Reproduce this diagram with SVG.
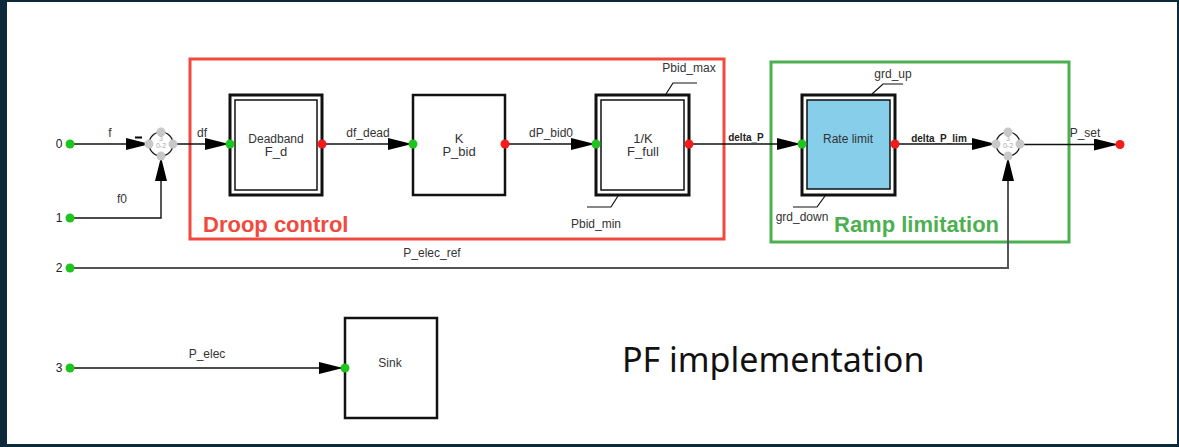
<svg xmlns="http://www.w3.org/2000/svg" width="1179" height="447" viewBox="0 0 1179 447">
<defs>
<style>
.lbl{font-family:"Liberation Sans",Arial,sans-serif;font-size:12px;fill:#333;text-anchor:middle}
.blbl{font-family:"Liberation Sans",Arial,sans-serif;font-size:10px;font-weight:bold;fill:#222;text-anchor:middle}
.port{font-family:"Liberation Sans",Arial,sans-serif;font-size:12px;fill:#222;text-anchor:middle}
.wire{fill:none;stroke:#111;stroke-width:1.4}
.wire2{fill:none;stroke:#555;stroke-width:2}
.leader{fill:none;stroke:#111;stroke-width:1.2}
.blk{fill:#fff;stroke:#111;stroke-width:3}
.blkin{fill:none;stroke:#111;stroke-width:1.5}
.in{fill:#1fc41f}
.out{fill:#f51b1b}
.sdot{fill:#c8c8c8}
.sum{fill:#fff;stroke:#111;stroke-width:1.2}
.stxt{font-family:"Liberation Sans",Arial,sans-serif;font-size:7px;fill:#aaa;text-anchor:middle}
.grp{font-family:"Liberation Sans",Arial,sans-serif;font-size:22px;font-weight:bold}
</style>
<marker id="arr" markerUnits="userSpaceOnUse" markerWidth="24" markerHeight="12" viewBox="0 0 24 12" refX="24" refY="6" orient="auto">
<path d="M0,0 L24,6 L0,12 z" fill="#000"/>
</marker>
</defs>

<rect x="0" y="0" width="1179" height="447" fill="#0d2a3b"/>
<rect x="7" y="2" width="1170" height="442" fill="#fff"/>

<g id="group-frames">
<rect x="190" y="59" width="534" height="180" fill="none" stroke="#f04a3e" stroke-width="3"/>
<text x="203" y="232" class="grp" fill="#f04a3e">Droop control</text>
<rect x="771" y="62" width="298" height="180" fill="none" stroke="#4caf50" stroke-width="3"/>
<text x="834" y="232" class="grp" fill="#4caf50">Ramp limitation</text>
</g>

<g id="connectors">
<path class="wire" d="M70,144 L150,144" marker-end="url(#arr)"/>
<path class="wire" d="M70,218 L161,218 L161,157" marker-end="url(#arr)"/>
<path class="wire" d="M173,144 L229,144" marker-end="url(#arr)"/>
<path class="wire" d="M322,144 L412,144" marker-end="url(#arr)"/>
<path class="wire" d="M505,144 L595,144" marker-end="url(#arr)"/>
<path class="wire" d="M689,144 L801,144" marker-end="url(#arr)"/>
<path class="wire" d="M895,144 L996,144" marker-end="url(#arr)"/>
<path class="wire2" d="M70,268 L1008,268 L1008,157" marker-end="url(#arr)"/>
<path class="wire" d="M1020,144.5 L1118,144.5" marker-end="url(#arr)"/>
<path class="wire" d="M70,368 L343,368" marker-end="url(#arr)"/>
<text x="110" y="137" class="lbl">f</text>
<line x1="135" y1="137.5" x2="142" y2="137.5" stroke="#000" stroke-width="2"/>
<text x="122" y="203" class="lbl">f0</text>
<text x="202" y="137" class="lbl">df</text>
<text x="368" y="137" class="lbl">df_dead</text>
<text x="551" y="137" class="lbl">dP_bid0</text>
<text x="746" y="141" class="blbl">delta_P</text>
<text x="939" y="142" class="blbl">delta_P_lim</text>
<text x="1085" y="137" class="lbl">P_set</text>
<text x="432" y="257" class="lbl">P_elec_ref</text>
<text x="207" y="358" class="lbl">P_elec</text>
</g>

<g id="port-0"><circle cx="70" cy="144" r="4.5" class="in"/><text x="59" y="148" class="port">0</text></g>
<g id="port-1"><circle cx="70" cy="218" r="4.5" class="in"/><text x="59" y="222" class="port">1</text></g>
<g id="port-2"><circle cx="70" cy="268" r="4.5" class="in"/><text x="59" y="272" class="port">2</text></g>
<g id="port-3"><circle cx="70" cy="368" r="4.5" class="in"/><text x="59" y="372" class="port">3</text></g>

<g id="sum1">
<circle cx="161" cy="144" r="12" class="sum"/>
<circle cx="161" cy="132" r="4.5" class="sdot"/>
<circle cx="149" cy="144" r="4.5" class="sdot"/>
<circle cx="173" cy="144" r="4.5" class="sdot"/>
<circle cx="161" cy="156" r="4.5" class="sdot"/>
<text x="161" y="141" class="stxt">3</text>
<text x="161" y="148" class="stxt">0-2</text>
</g>

<g id="deadband">
<rect x="230" y="95" width="92" height="100" class="blk"/>
<rect x="235" y="100" width="82" height="90" class="blkin"/>
<text x="276" y="143" class="lbl">Deadband</text>
<text x="276" y="156" class="lbl" style="font-size:13px">F_d</text>
<circle cx="230" cy="144" r="4.5" class="in"/>
<circle cx="322" cy="144" r="4.5" class="out"/>
</g>

<g id="gain-k">
<rect x="413" y="95" width="92" height="100" fill="#fff" stroke="#111" stroke-width="2.5"/>
<text x="459" y="143" class="lbl" style="font-size:13px">K</text>
<text x="459" y="156" class="lbl" style="font-size:13px">P_bid</text>
<circle cx="413" cy="144" r="4.5" class="in"/>
<circle cx="505" cy="144" r="4.5" class="out"/>
</g>

<g id="limiter">
<rect x="596" y="95" width="93" height="100" class="blk"/>
<rect x="601" y="100" width="83" height="90" class="blkin"/>
<text x="643" y="143" class="lbl" style="font-size:13px">1/K</text>
<text x="643" y="156" class="lbl" style="font-size:13px">F_full</text>
<path class="leader" d="M666,94 L673,83 L697,83"/>
<text x="689" y="72" class="lbl">Pbid_max</text>
<path class="leader" d="M618,196 L611,207 L587,207"/>
<text x="596" y="228" class="lbl">Pbid_min</text>
<circle cx="596" cy="144" r="4.5" class="in"/>
<circle cx="689" cy="144" r="4.5" class="out"/>
</g>

<g id="rate-limit">
<rect x="802" y="95" width="93" height="100" class="blk"/>
<rect x="807" y="100" width="83" height="89" fill="#87ceeb" stroke="#111" stroke-width="1.5"/>
<text x="848" y="143" class="lbl">Rate limit</text>
<path class="leader" d="M872,94 L883,84 L903,84"/>
<text x="893" y="78" class="lbl">grd_up</text>
<path class="leader" d="M825,196 L817,207 L793,207"/>
<text x="802" y="221" class="lbl">grd_down</text>
<circle cx="802" cy="144" r="4.5" class="in"/>
<circle cx="895" cy="144" r="4.5" class="out"/>
</g>

<g id="sum2">
<circle cx="1008" cy="144" r="12" class="sum"/>
<circle cx="1008" cy="132" r="4.5" class="sdot"/>
<circle cx="996" cy="144" r="4.5" class="sdot"/>
<circle cx="1020" cy="144" r="4.5" class="sdot"/>
<circle cx="1008" cy="156" r="4.5" class="sdot"/>
<text x="1008" y="141" class="stxt">3</text>
<text x="1008" y="148" class="stxt">0-2</text>
</g>

<g id="out-pset"><circle cx="1120" cy="144.5" r="4.5" class="out"/></g>

<g id="sink">
<rect x="345" y="318" width="92" height="100" fill="#fff" stroke="#111" stroke-width="2.5"/>
<text x="390" y="367" class="lbl">Sink</text>
<circle cx="345" cy="368" r="4.5" class="in"/>
</g>

<g id="title">
<text x="622" y="372" font-family="'Noto Sans','Open Sans',sans-serif" font-size="34" fill="#111">PF implementation</text>
</g>
</svg>
